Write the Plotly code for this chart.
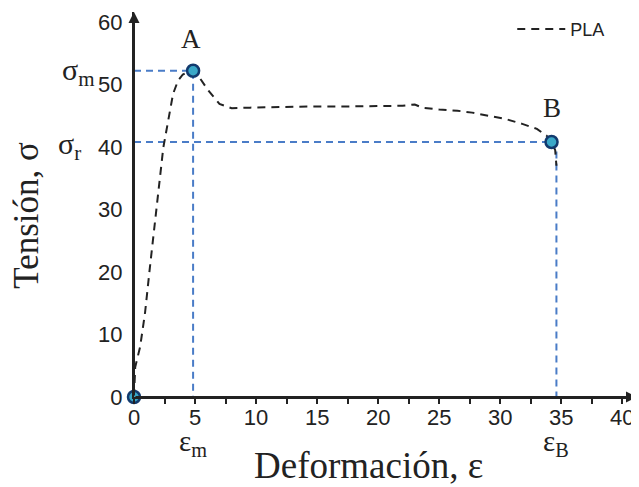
import plotly.graph_objects as go

# PLA stress-strain curve
strain = [0, 0.1, 0.5, 0.9, 1.3, 1.6, 2.0, 2.4, 2.8, 3.2, 3.6, 4.0, 4.4, 4.84,
          5.4, 6.1, 7.0, 8.0, 9.5, 12, 15, 18, 20, 22, 23, 23.6, 25, 26.5,
          27.7, 29, 30.4, 31.8, 33, 33.8, 34.2, 34.5, 34.6]
stress = [0, 4.8, 8, 13.4, 20.7, 26, 33.5, 39.9, 44.2, 48.5, 50.6, 51.6, 52.0, 52.2,
          51, 49, 46.9, 46.2, 46.3, 46.4, 46.5, 46.5, 46.5, 46.6, 46.8, 46.3, 46.0, 45.8,
          45.5, 45.0, 44.5, 43.7, 42.9, 41.8, 40.8, 39.5, 37]

# key points: origin, A (max stress), B (rupture)
pt_x = [0, 4.84, 34.2]
pt_y = [0, 52.2, 40.8]
eps_m, sigma_m = 4.84, 52.2
eps_B, sigma_r = 34.6, 40.8

x_ticks = [0, 5, 10, 15, 20, 25, 30, 35, 40]
y_ticks = [0, 10, 20, 30, 40, 50, 60]

BLUE = "#4a7cc7"
INK = "#222222"
serif = "Liberation Serif"
sans = "Liberation Sans"

fig = go.Figure()

# guide lines
fig.add_trace(go.Scatter(x=[0, eps_m, eps_m], y=[sigma_m, sigma_m, 0], mode="lines",
                         line=dict(color=BLUE, width=2, dash="7px,5px"),
                         showlegend=False, hoverinfo="skip", cliponaxis=False))
fig.add_trace(go.Scatter(x=[0, pt_x[2], eps_B, eps_B], y=[sigma_r, sigma_r, sigma_r, 0], mode="lines",
                         line=dict(color=BLUE, width=2, dash="7px,5px"),
                         showlegend=False, hoverinfo="skip", cliponaxis=False))

fig.add_trace(go.Scatter(x=strain, y=stress, mode="lines", name="PLA",
                         line=dict(color=INK, width=2, dash="8px,6px"),
                         cliponaxis=False))

fig.add_trace(go.Scatter(x=pt_x, y=pt_y, mode="markers", showlegend=False,
                         marker=dict(size=12, color="#3aa8c8",
                                     line=dict(color="#123a6e", width=2.5)),
                         cliponaxis=False))

annotations = [
    # axis arrows
    dict(x=41.2, y=0, ax=0, ay=0, xref="x", yref="y", axref="x", ayref="y",
         showarrow=True, arrowhead=2, arrowsize=1.1, arrowwidth=2, arrowcolor=INK, text=""),
    dict(x=0, y=61.6, ax=0, ay=0, xref="x", yref="y", axref="x", ayref="y",
         showarrow=True, arrowhead=2, arrowsize=1.1, arrowwidth=2, arrowcolor=INK, text=""),
    dict(x=4.7, y=57.3, xref="x", yref="y", text="A", showarrow=False,
         font=dict(family=serif, size=27, color=INK)),
    dict(x=34.2, y=46.3, xref="x", yref="y", text="B", showarrow=False,
         font=dict(family=serif, size=27, color=INK)),
    dict(x=-0.074, y=sigma_m - 0.2, xref="paper", yref="y", xanchor="right", yanchor="middle",
         text="σ<sub>m</sub>", showarrow=False, font=dict(family=serif, size=30, color=INK)),
    dict(x=-0.102, y=sigma_r - 0.6, xref="paper", yref="y", xanchor="right", yanchor="middle",
         text="σ<sub>r</sub>", showarrow=False, font=dict(family=serif, size=30, color=INK)),
    dict(x=eps_m, y=-0.12, xref="x", yref="paper", yanchor="middle",
         text="ε<sub>m</sub>", showarrow=False, font=dict(family=serif, size=29, color=INK)),
    dict(x=eps_B, y=-0.12, xref="x", yref="paper", yanchor="middle",
         text="ε<sub>B</sub>", showarrow=False, font=dict(family=serif, size=29, color=INK)),
    # axis titles
    dict(x=0.467, y=-0.177, xref="paper", yref="paper", xanchor="center", yanchor="middle",
         text="Deformación, ε", showarrow=False, font=dict(family=serif, size=37, color=INK)),
    dict(x=-0.213, y=0.473, xref="paper", yref="paper", xanchor="center", yanchor="middle",
         text="Tensión, σ", textangle=-90, showarrow=False,
         font=dict(family=serif, size=35, color=INK)),
]

# The page body has an 8 px margin, so the figure is 8 px smaller in each direction
fig.update_layout(
    width=631, height=479,
    margin=dict(l=126, r=2, t=4, b=90),
    paper_bgcolor="white", plot_bgcolor="white",
    annotations=annotations,
    showlegend=True,
    legend=dict(x=0.752, y=0.955, xanchor="left", yanchor="middle", itemwidth=48,
                font=dict(family=sans, size=18, color=INK),
                bgcolor="rgba(0,0,0,0)"),
    xaxis=dict(range=[0, 41.2], tickvals=x_ticks, ticktext=[str(v) for v in x_ticks],
               automargin=False,
               showgrid=False, zeroline=False, showline=True, linecolor=INK, linewidth=2,
               ticks="outside", ticklen=5, tickwidth=1.5, tickcolor=INK,
               minor=dict(dtick=2.5, tick0=0, ticks="outside", ticklen=5, tickcolor=INK, tickwidth=1.5),
               ticklabelstandoff=-5,
               tickfont=dict(family=sans, size=22, color=INK)),
    yaxis=dict(range=[0, 61.6], tickvals=y_ticks, ticktext=[str(v) for v in y_ticks],
               automargin=False,
               showgrid=False, zeroline=False, showline=True, linecolor=INK, linewidth=2,
               ticks="", ticklabelstandoff=5,
               tickfont=dict(family=sans, size=22, color=INK)),
)

fig.write_html("out.html")
